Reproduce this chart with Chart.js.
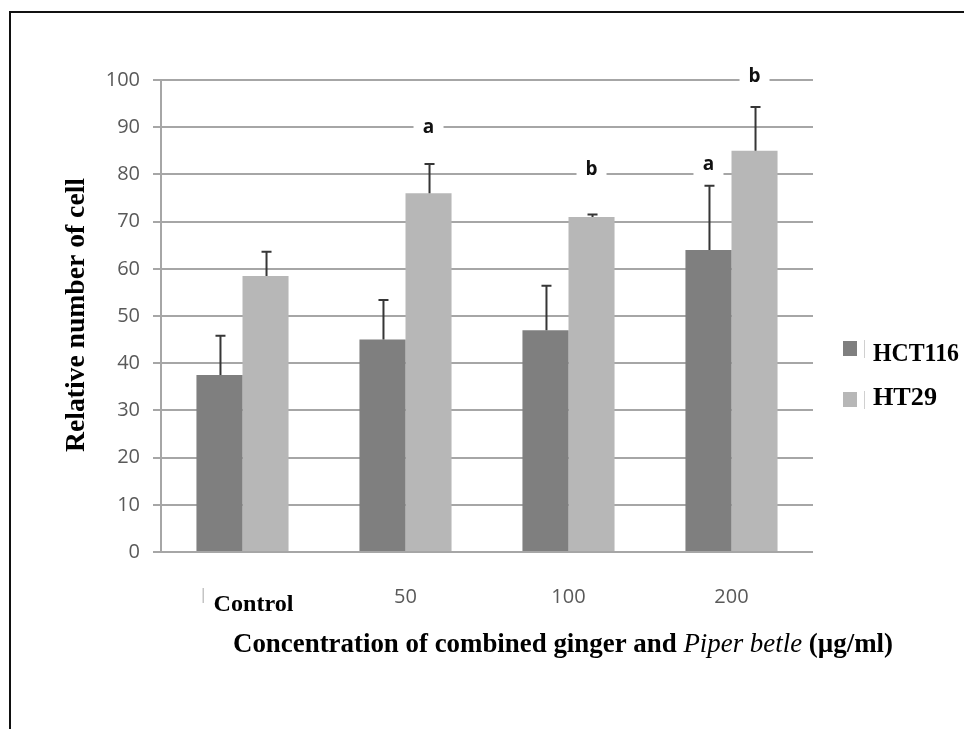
<!DOCTYPE html>
<html>
<head>
<meta charset="utf-8">
<script src="https://cdn.jsdelivr.net/npm/chart.js@4/dist/chart.umd.min.js"></script>
<style>
  html, body { margin: 0; padding: 0; background: #fff; }
  canvas { display: block; }
</style>
</head>
<body>
<canvas id="chart" width="964" height="729"></canvas>
<script>
// Relative cell numbers after treatment with combined ginger and Piper betle
const categories = ['Control', '50', '100', '200'];
const seriesNames = ['HCT116', 'HT29'];
const hct116 = [37.5, 45, 47, 64];
const ht29 = [58.5, 76, 71, 85];
const hct116Sd = [8.3, 8.4, 9.4, 13.6];
const ht29Sd = [5.1, 6.2, 0.5, 9.3];
// significance letters and the value level they sit at
const hct116Letters = ['', '', '', 'a'];
const hct116LetterLevel = [null, null, null, 82];
const ht29Letters = ['', 'a', 'b', 'b'];
const ht29LetterLevel = [null, 90, 81, 100.8];
const yTicks = [0, 10, 20, 30, 40, 50, 60, 70, 80, 90, 100];
const yTitle = 'Relative number of cell';
const xTitleParts = [
  { text: 'Concentration of combined ginger and ', style: 'bold' },
  { text: 'Piper betle', style: 'italic' },
  { text: ' (\u00b5g/ml)', style: 'bold' }
];

const DARK = '#7f7f7f';
const LIGHT = '#b7b7b7';
const GRID = '#a6a6a6';
const SERIF = '"Liberation Serif", "Times New Roman", serif';

// draw text squeezed/stretched to a given width
function fitText(ctx, text, font, cx, cy, width) {
  ctx.save();
  ctx.font = font;
  const w = ctx.measureText(text).width;
  ctx.translate(cx, cy);
  ctx.scale(width / w, 1);
  ctx.textAlign = 'center';
  ctx.textBaseline = 'middle';
  ctx.fillText(text, 0, 0);
  ctx.restore();
}

const decorations = {
  id: 'decorations',
  beforeDraw(chart) {
    const ctx = chart.ctx;
    ctx.save();
    ctx.fillStyle = '#fff';
    ctx.fillRect(0, 0, chart.width, chart.height);
    // figure frame (top and left edges)
    ctx.fillStyle = '#111';
    ctx.fillRect(9, 11, chart.width - 9, 2);
    ctx.fillRect(9, 11, 2, chart.height - 11);
    ctx.restore();
  },
  afterDatasetsDraw(chart) {
    const ctx = chart.ctx;
    const y = chart.scales.y;
    const sds = [hct116Sd, ht29Sd];
    const letters = [hct116Letters, ht29Letters];
    const levels = [hct116LetterLevel, ht29LetterLevel];

    // error bars (upper half only)
    ctx.save();
    ctx.strokeStyle = '#363636';
    ctx.lineWidth = 2;
    chart.data.datasets.forEach((ds, d) => {
      const meta = chart.getDatasetMeta(d);
      meta.data.forEach((bar, i) => {
        const top = y.getPixelForValue(ds.data[i] + sds[d][i]);
        const x = bar.x + 1;
        ctx.beginPath();
        ctx.moveTo(x, bar.y);
        ctx.lineTo(x, top);
        ctx.moveTo(x - 5, top);
        ctx.lineTo(x + 5, top);
        ctx.stroke();
      });
    });
    ctx.restore();

    // significance letters on a white patch
    ctx.save();
    ctx.font = 'bold 19px "Open Sans", sans-serif';
    ctx.textAlign = 'center';
    ctx.textBaseline = 'middle';
    chart.data.datasets.forEach((ds, d) => {
      const meta = chart.getDatasetMeta(d);
      meta.data.forEach((bar, i) => {
        const t = letters[d][i];
        if (!t) return;
        const ly = y.getPixelForValue(levels[d][i]);
        ctx.fillStyle = '#fff';
        ctx.fillRect(bar.x - 15, ly - 11, 30, 22);
        ctx.fillStyle = '#111';
        ctx.fillText(t, bar.x, ly);
      });
    });
    ctx.restore();
  },
  afterDraw(chart) {
    const ctx = chart.ctx;
    const x = chart.scales.x;
    ctx.save();
    ctx.fillStyle = '#000';

    // y axis title
    ctx.save();
    ctx.translate(77, 315);
    ctx.rotate(-Math.PI / 2);
    fitText(ctx, yTitle, 'bold 27px ' + SERIF, 0, 0, 274);
    ctx.restore();

    // first category label, set apart from the numeric ones
    const cx0 = x.getPixelForValue(0);
    ctx.fillStyle = '#c4c4c4';
    ctx.fillRect(cx0 - 40, 588, 1.5, 15);
    ctx.fillStyle = '#000';
    fitText(ctx, categories[0], 'bold 23px ' + SERIF, cx0 + 11, 605, 80);

    // x axis title with italic species name
    const fonts = {
      bold: 'bold 27px ' + SERIF,
      italic: 'italic 27px ' + SERIF
    };
    let total = 0;
    const widths = xTitleParts.map(p => {
      ctx.font = fonts[p.style];
      const w = ctx.measureText(p.text).width;
      total += w;
      return w;
    });
    const s = 660 / total;
    ctx.translate(233, 645);
    ctx.scale(s, 1);
    ctx.textBaseline = 'middle';
    ctx.textAlign = 'left';
    let px = 0;
    xTitleParts.forEach((p, k) => {
      ctx.font = fonts[p.style];
      ctx.fillText(p.text, px, 0);
      px += widths[k];
    });
    ctx.restore();

    // legend
    ctx.save();
    const legendRows = [
      { sq: 341, ty: 354, w: 86 },
      { sq: 392, ty: 398, w: 64 }
    ];
    chart.data.datasets.forEach((ds, d) => {
      const r = legendRows[d];
      ctx.fillStyle = ds.backgroundColor;
      ctx.fillRect(843, r.sq, 14, 15);
      ctx.fillStyle = '#d0d0d0';
      ctx.fillRect(864, r.sq - 1, 1, 18);
      ctx.fillStyle = '#000';
      fitText(ctx, ds.label, 'bold 26px ' + SERIF, 873 + r.w / 2, r.ty, r.w);
    });
    ctx.restore();
  }
};

new Chart(document.getElementById('chart'), {
  type: 'bar',
  data: {
    labels: categories,
    datasets: [
      { label: seriesNames[0], data: hct116, backgroundColor: DARK },
      { label: seriesNames[1], data: ht29, backgroundColor: LIGHT }
    ]
  },
  options: {
    responsive: false,
    animation: false,
    events: [],
    layout: { padding: { top: 80, right: 151, left: 0, bottom: 0 } },
    datasets: {
      bar: { categoryPercentage: 0.565, barPercentage: 1.0, borderWidth: 0 }
    },
    plugins: {
      legend: { display: false },
      tooltip: { enabled: false },
      title: { display: false }
    },
    scales: {
      x: {
        grid: { display: false, drawTicks: false },
        border: { display: false },
        ticks: {
          color: '#595959',
          font: { family: '"Open Sans", sans-serif', size: 20 },
          padding: 33,
          maxRotation: 0,
          autoSkip: false,
          callback: (v, i) => (i === 0 ? '' : categories[i])
        },
        afterFit: s => { s.height = 177; }
      },
      y: {
        min: 0,
        max: 100,
        afterBuildTicks: s => { s.ticks = yTicks.map(v => ({ value: v })); },
        grid: { color: GRID, lineWidth: 2, tickLength: 8, tickColor: GRID },
        border: { display: true, color: GRID, width: 2 },
        ticks: {
          color: '#595959',
          font: { family: '"Open Sans", sans-serif', size: 20 },
          padding: 13
        },
        afterFit: s => { s.width = 161; }
      }
    }
  },
  plugins: [decorations]
});
</script>
</body>
</html>
